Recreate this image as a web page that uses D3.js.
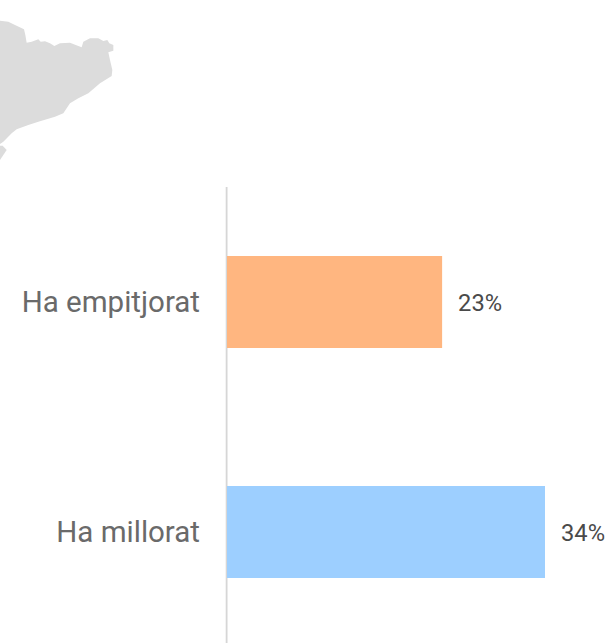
<!DOCTYPE html>
<html><head><meta charset="utf-8">
<script src="https://cdn.jsdelivr.net/npm/d3@7"></script>
<style>html,body{margin:0;padding:0;background:#fff}svg{display:block}</style>
</head><body><div id="c"></div>
<script>
const categories = ["Ha empitjorat", "Ha millorat"];
const values = [23, 34];
const colors = ["#FFB680", "#9DCFFF"];
const coast = [[0,62],[25,65],[45,75],[72,88],[76,105],[80,128],[95,125],[115,118],[122,125],[135,124],[150,130],[163,138],[180,130],[210,128],[235,138],[245,142],[250,125],[270,115],[295,115],[310,123],[322,120],[328,130],[340,135],[340,152],[325,157],[330,180],[337,210],[335,228],[300,250],[265,280],[235,295],[210,310],[190,340],[165,350],[115,365],[85,375],[50,388],[35,400],[10,425],[0,432]];
const island = [[0,437],[8,437],[20,450],[0,480]];

const W = 607, H = 643;
const svg = d3.select("#c").append("svg").attr("width", W).attr("height", H);

const mx = d3.scaleLinear().domain([0, 3]).range([0, 1]);
const mline = d3.line().x(d => mx(d[0])).y(d => mx(d[1])).curve(d3.curveLinearClosed);
svg.selectAll("path.map").data([coast, island]).join("path")
  .attr("class", "map").attr("d", mline).attr("fill", "#DCDCDC");

const x = d3.scaleLinear().domain([0, 34]).range([227, 545]);
const y = d3.scaleBand().domain(categories).range([187, 647]).paddingInner(0.6).paddingOuter(0.3);

svg.append("line").attr("x1", 226.6).attr("x2", 226.6).attr("y1", 187).attr("y2", H)
  .attr("stroke", "#D6D6D6").attr("stroke-width", 1.8);

svg.selectAll("rect.bar").data(categories).join("rect").attr("class", "bar")
  .attr("x", x(0)).attr("y", d => y(d)).attr("height", y.bandwidth())
  .attr("width", (d, i) => x(values[i]) - x(0)).attr("fill", (d, i) => colors[i]);

svg.selectAll("text.cat").data(categories).join("text").attr("class", "cat")
  .attr("x", 200).attr("y", d => y(d) + y.bandwidth() / 2).attr("dy", "0.35em")
  .attr("text-anchor", "end").attr("font-family", "Roboto").attr("font-size", 29.5)
  .attr("fill", "#6a6a6a").text(d => d);

svg.selectAll("text.val").data(categories).join("text").attr("class", "val")
  .attr("x", (d, i) => x(values[i]) + 16).attr("y", d => y(d) + y.bandwidth() / 2 + 1).attr("dy", "0.35em")
  .attr("font-family", "Roboto").attr("font-size", 23.7)
  .attr("fill", "#4a4a4a").text((d, i) => values[i] + "%");
</script></body></html>
